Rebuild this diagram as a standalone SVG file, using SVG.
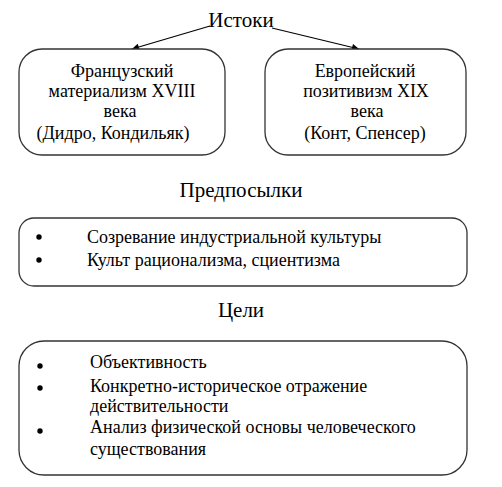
<svg xmlns="http://www.w3.org/2000/svg" width="502" height="487" viewBox="0 0 502 487">
<defs>
<marker id="ah" viewBox="0 0 10 10" refX="10" refY="5" markerWidth="8" markerHeight="7" markerUnits="userSpaceOnUse" orient="auto"><path d="M0,0 L10,5 L0,10 z" fill="#000"/></marker>
<style>
text{font-family:"Liberation Serif","Times New Roman",serif;fill:#000;}
.t{font-size:21px;text-anchor:middle;}
.b{font-size:18px;text-anchor:middle;}
.l{font-size:18px;}
.box{fill:#fff;stroke:#333;stroke-width:1.3;}
.c{stroke:#000;stroke-width:1.2;fill:none;}
</style>
</defs>
<rect width="502" height="487" fill="#fff"/>
<g id="connectors">
<line class="c" x1="210" y1="26" x2="132" y2="49" marker-end="url(#ah)"/>
<line class="c" x1="272" y1="28" x2="359" y2="49" marker-end="url(#ah)"/>
</g>
<g id="istoki"><text class="t" x="241" y="27">Истоки</text></g>
<g id="french">
<rect class="box" x="19" y="49" width="206" height="106" rx="23"/>
<text class="b" x="122" y="77">Французский</text>
<text class="b" x="122" y="97">материализм XVIII</text>
<text class="b" x="120" y="117">века</text>
<text class="b" x="113" y="139">(Дидро, Кондильяк)</text>
</g>
<g id="european">
<rect class="box" x="265" y="49" width="201" height="106" rx="23"/>
<text class="b" x="365" y="77">Европейский</text>
<text class="b" x="366" y="97">позитивизм XIX</text>
<text class="b" x="367" y="117">века</text>
<text class="b" x="365" y="139">(Конт, Спенсер)</text>
</g>
<g id="predposylki-title"><text class="t" x="241" y="197">Предпосылки</text></g>
<g id="predposylki">
<rect class="box" x="19" y="218" width="448" height="68" rx="15"/>
<circle cx="39" cy="237" r="2.7"/>
<circle cx="39" cy="260" r="2.7"/>
<text class="l" x="87" y="243">Созревание индустриальной культуры</text>
<text class="l" x="87" y="266">Культ рационализма, сциентизма</text>
</g>
<g id="tseli-title"><text class="t" x="241" y="317">Цели</text></g>
<g id="tseli">
<rect class="box" x="19" y="341" width="448" height="134" rx="25"/>
<circle cx="40" cy="366" r="2.7"/>
<circle cx="40" cy="388" r="2.7"/>
<circle cx="40" cy="431" r="2.7"/>
<text class="l" x="90" y="368">Объективность</text>
<text class="l" x="90" y="392">Конкретно-историческое отражение</text>
<text class="l" x="90" y="412">действительности</text>
<text class="l" x="90" y="433">Анализ физической основы человеческого</text>
<text class="l" x="90" y="455">существования</text>
</g>
</svg>
